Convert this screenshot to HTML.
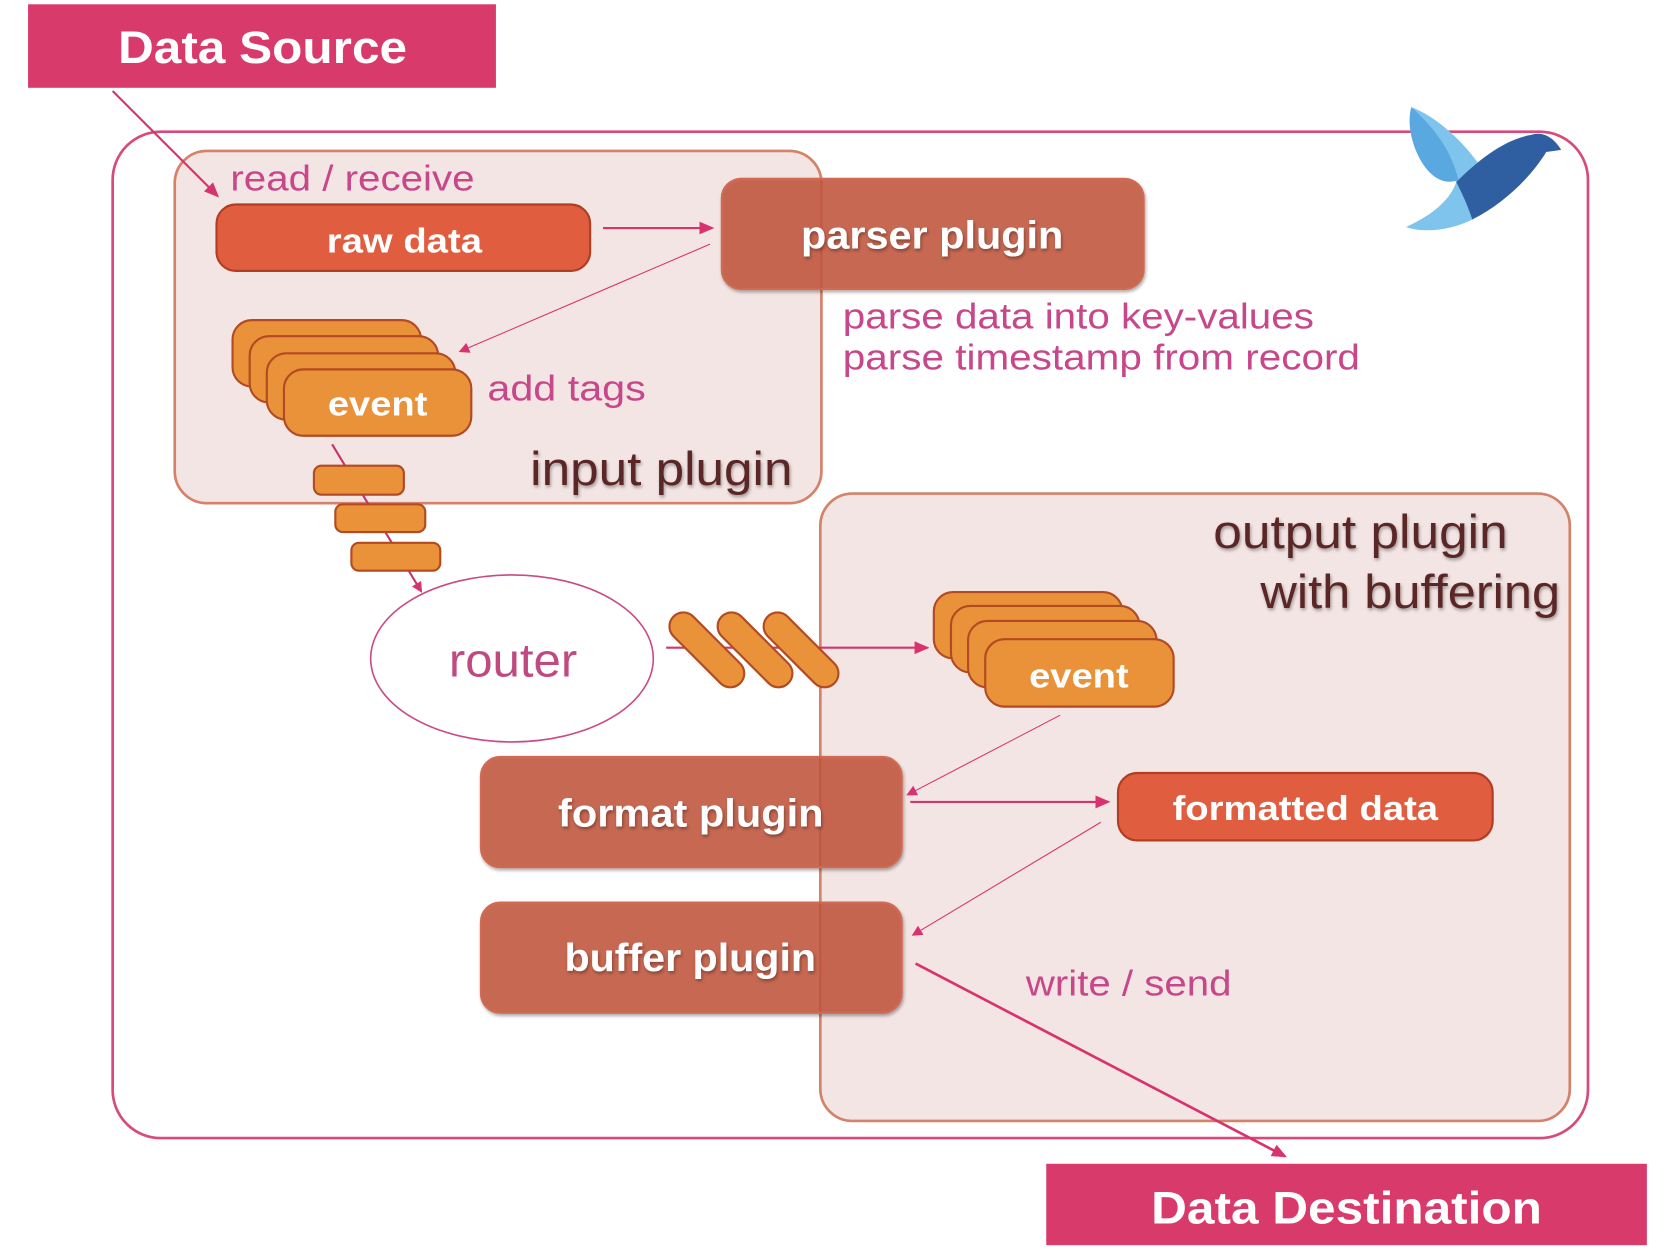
<!DOCTYPE html>
<html><head><meta charset="utf-8"><style>
html,body{margin:0;padding:0;background:#fff;}
svg{display:block}
text{font-family:"Liberation Sans",sans-serif}
.b{font-weight:bold;fill:#fff}
.p{fill:#c8468a}
</style></head><body>
<svg width="1676" height="1258" viewBox="0 0 1565 1175" xmlns="http://www.w3.org/2000/svg">
<defs>
<marker id="ah" markerWidth="10" markerHeight="10" refX="8" refY="5" orient="auto" markerUnits="userSpaceOnUse"><path d="M0,0 L10,5 L0,10 z" fill="#d8336e"/></marker>
<marker id="as" markerWidth="14" markerHeight="12" refX="12" refY="6" orient="auto" markerUnits="userSpaceOnUse"><path d="M0,0 L14,6 L0,12 z" fill="#d8336e"/></marker>
<filter id="sh"><feDropShadow dx="1" dy="2" stdDeviation="1.5" flood-color="#000" flood-opacity="0.35"/></filter>
</defs>

<rect x="26" y="4" width="437" height="78" fill="#d83a6b"/>
<text x="110" y="59" font-size="42" class="b" textLength="270" lengthAdjust="spacingAndGlyphs">Data Source</text>

<rect x="105" y="123" width="1378" height="940" rx="45" fill="none" stroke="#d84a7a" stroke-width="2.5"/>

<rect x="163" y="141" width="604" height="329" rx="30" fill="#f3e5e4" stroke="#d4826a" stroke-width="2.5"/>
<rect x="766" y="461" width="700" height="586" rx="30" fill="#f3e5e4" stroke="#d4826a" stroke-width="2.5"/>

<line x1="105" y1="85" x2="203" y2="183" stroke="#d8336e" stroke-width="2" marker-end="url(#as)"/>
<text x="215" y="178" font-size="34" class="p" textLength="228" lengthAdjust="spacingAndGlyphs">read / receive</text>

<rect x="202" y="191" width="349" height="62" rx="18" fill="#e05d3f" stroke="#b03e22" stroke-width="2"/>
<text x="305" y="236" font-size="32" class="b" textLength="145" lengthAdjust="spacingAndGlyphs">raw data</text>
<line x1="563" y1="213" x2="665" y2="213" stroke="#d8336e" stroke-width="2" marker-end="url(#as)"/>

<rect x="674" y="167" width="394" height="103" rx="18" fill="#c4573f" fill-opacity="0.85" stroke="#d06a52" stroke-width="2" filter="url(#sh)"/>
<text x="748" y="232" font-size="36" class="b" textLength="245" lengthAdjust="spacingAndGlyphs" filter="url(#sh)">parser plugin</text>
<line x1="663" y1="228" x2="430" y2="328" stroke="#d8336e" stroke-width="1" marker-end="url(#ah)"/>
<text x="787" y="307" font-size="34" class="p" textLength="440" lengthAdjust="spacingAndGlyphs">parse data into key-values</text>
<text x="787" y="345" font-size="34" class="p" textLength="483" lengthAdjust="spacingAndGlyphs">parse timestamp from record</text>

<g fill="#e9923a" stroke="#b24a22" stroke-width="2">
<rect x="217" y="299" width="176" height="62" rx="18"/>
<rect x="233" y="314" width="176" height="62" rx="18"/>
<rect x="249" y="330" width="176" height="62" rx="18"/>
<rect x="265" y="345" width="175" height="62" rx="18"/>
</g>
<text x="306" y="388" font-size="32" class="b" textLength="93" lengthAdjust="spacingAndGlyphs">event</text>
<text x="455" y="374" font-size="34" class="p" textLength="148" lengthAdjust="spacingAndGlyphs">add tags</text>
<text x="495" y="453" font-size="44" fill="#5a2626" filter="url(#sh)" textLength="245" lengthAdjust="spacingAndGlyphs">input plugin</text>

<line x1="310" y1="415" x2="393" y2="552" stroke="#c8336a" stroke-width="2" marker-end="url(#ah)"/>
<g fill="#e9923a" stroke="#b24a22" stroke-width="2">
<rect x="293" y="435" width="84" height="27" rx="7"/>
<rect x="313" y="471" width="84" height="26" rx="7"/>
<rect x="328" y="507" width="83" height="26" rx="7"/>
</g>

<ellipse cx="478" cy="615" rx="132" ry="78" fill="#fff" stroke="#c94a86" stroke-width="1.5"/>
<text x="419" y="632" font-size="44" fill="#c04a80" textLength="120" lengthAdjust="spacingAndGlyphs">router</text>

<line x1="622" y1="605" x2="866" y2="605" stroke="#d8336e" stroke-width="2" marker-end="url(#as)"/>
<g fill="#e9923a" stroke="#b24a22" stroke-width="2">
<rect x="616" y="594" width="88" height="26" rx="13" transform="rotate(45 660 607)"/>
<rect x="661" y="594" width="88" height="26" rx="13" transform="rotate(45 705 607)"/>
<rect x="704" y="594" width="88" height="26" rx="13" transform="rotate(45 748 607)"/>
</g>

<text x="1133" y="512" font-size="44" fill="#5a2626" filter="url(#sh)" textLength="275" lengthAdjust="spacingAndGlyphs">output plugin</text>
<text x="1177" y="568" font-size="44" fill="#5a2626" filter="url(#sh)" textLength="280" lengthAdjust="spacingAndGlyphs">with buffering</text>

<g fill="#e9923a" stroke="#b24a22" stroke-width="2">
<rect x="872" y="553" width="176" height="62" rx="18"/>
<rect x="888" y="566" width="176" height="62" rx="18"/>
<rect x="904" y="580" width="176" height="62" rx="18"/>
<rect x="920" y="597" width="176" height="63" rx="18"/>
</g>
<text x="961" y="642" font-size="32" class="b" textLength="93" lengthAdjust="spacingAndGlyphs">event</text>
<line x1="990" y1="668" x2="848" y2="742" stroke="#d8336e" stroke-width="1" marker-end="url(#ah)"/>

<rect x="449" y="707" width="393" height="103" rx="18" fill="#c4573f" fill-opacity="0.85" stroke="#d06a52" stroke-width="2" filter="url(#sh)"/>
<text x="521" y="772" font-size="36" class="b" filter="url(#sh)" textLength="248" lengthAdjust="spacingAndGlyphs">format plugin</text>
<line x1="850" y1="749" x2="1035" y2="749" stroke="#d8336e" stroke-width="2" marker-end="url(#as)"/>

<rect x="1044" y="722" width="350" height="63" rx="18" fill="#e05d3f" stroke="#b03e22" stroke-width="2"/>
<text x="1095" y="766" font-size="32" class="b" textLength="248" lengthAdjust="spacingAndGlyphs">formatted data</text>
<line x1="1028" y1="768" x2="853" y2="873" stroke="#d8336e" stroke-width="1" marker-end="url(#ah)"/>

<rect x="449" y="843" width="393" height="103" rx="18" fill="#c4573f" fill-opacity="0.85" stroke="#d06a52" stroke-width="2" filter="url(#sh)"/>
<text x="527" y="907" font-size="36" class="b" filter="url(#sh)" textLength="235" lengthAdjust="spacingAndGlyphs">buffer plugin</text>

<text x="958" y="930" font-size="34" class="p" textLength="192" lengthAdjust="spacingAndGlyphs">write / send</text>
<line x1="855" y1="900" x2="1200" y2="1080" stroke="#d8336e" stroke-width="2.5" marker-end="url(#as)"/>

<rect x="977" y="1087" width="561" height="76" fill="#d83a6b"/>
<text x="1075" y="1143" font-size="42" class="b" textLength="365" lengthAdjust="spacingAndGlyphs">Data Destination</text>

<path d="M1318,100 C1345,110 1375,140 1392,170 L1375,205 C1355,215 1330,218 1313,212 C1340,200 1355,185 1360,170 C1345,150 1320,130 1318,100 Z" fill="#7fc4ec"/>
<path d="M1360,170 C1380,150 1405,130 1430,126 C1442,122 1452,130 1458,140 L1444,142 C1430,165 1405,190 1375,205 C1370,190 1365,180 1360,170 Z" fill="#2f5fa0"/>
<path d="M1318,100 C1340,120 1355,140 1362,168 C1345,175 1330,160 1322,140 C1316,125 1315,110 1318,100 Z" fill="#5aa8e0"/>
</svg>
</body></html>
